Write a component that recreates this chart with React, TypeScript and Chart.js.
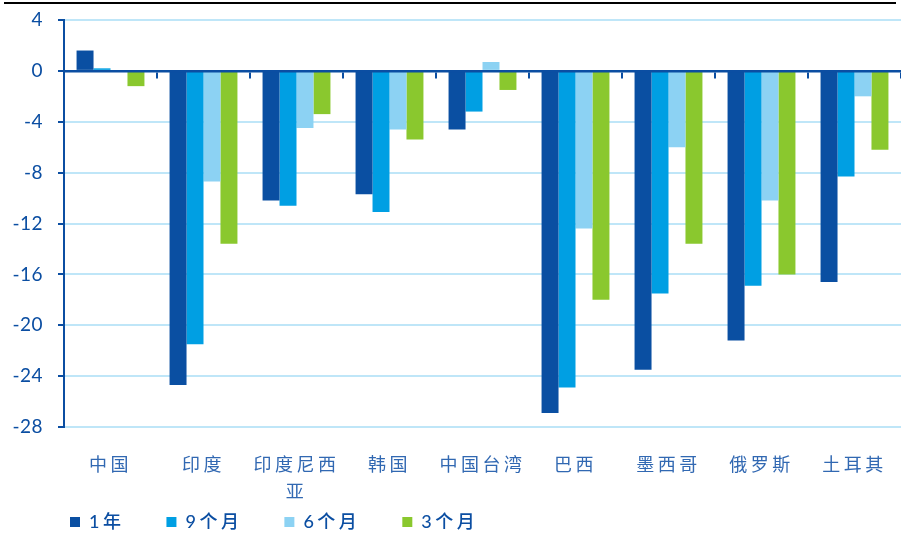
import React, { useEffect, useRef } from 'react';
import { Chart, registerables } from 'chart.js';

Chart.register(...registerables);

// ---- data ----
const categories = ['中国', '印度', '印度尼西亚', '韩国', '中国台湾', '巴西', '墨西哥', '俄罗斯', '土耳其'];
const seriesNames = ['1年', '9个月', '6个月', '3个月'];
const oneYear = [1.6, -24.7, -10.2, -9.7, -4.6, -26.9, -23.5, -21.2, -16.6];
const nineMonths = [0.2, -21.5, -10.6, -11.1, -3.2, -24.9, -17.5, -16.9, -8.3];
const sixMonths = [0, -8.7, -4.5, -4.6, 0.7, -12.4, -6.0, -10.2, -2.0];
const threeMonths = [-1.2, -13.6, -3.4, -5.4, -1.5, -18.0, -13.6, -16.0, -6.2];
const yMin = -28;
const yMax = 4;
const yStep = 4;

// ---- styles ----
const seriesColors = ['#0a4fa2', '#009fe3', '#8cd2f3', '#8ac82e'];
const darkBlue = '#0b4ea2';
const labelBlue = '#3168b2';
const gridBlue = '#bfe6f8';
const fontFamily = "Lato, 'Noto Sans CJK SC', sans-serif";

const spacingPlugin = {
  id: 'spacingAndRule',
  beforeUpdate(chart: any) {
    chart.ctx.letterSpacing = '3.5px';
  },
  beforeDraw(chart: any) {
    chart.ctx.letterSpacing = '3.5px';
  },
  afterDraw(chart: any) {
    const ctx = chart.ctx;
    ctx.save();
    ctx.strokeStyle = '#000';
    ctx.lineWidth = 2;
    ctx.beginPath();
    ctx.moveTo(4, 3);
    ctx.lineTo(896, 3);
    ctx.stroke();
    ctx.restore();
  },
};

export default function App() {
  const ref = useRef<HTMLCanvasElement | null>(null);

  useEffect(() => {
    if (!ref.current) return;
    const seriesValues = [oneYear, nineMonths, sixMonths, threeMonths];
    const chart = new Chart(ref.current, {
      type: 'bar',
      data: {
        labels: categories,
        datasets: seriesNames.map((name, i) => ({
          label: name,
          data: seriesValues[i],
          backgroundColor: seriesColors[i],
          borderWidth: 0,
          categoryPercentage: 0.73,
          barPercentage: 1,
        })),
      },
      plugins: [spacingPlugin],
      options: {
        responsive: false,
        devicePixelRatio: 1,
        animation: false,
        layout: { padding: { left: 28, top: 20, right: 0, bottom: -7 } },
        plugins: {
          tooltip: { enabled: false },
          legend: {
            position: 'bottom',
            align: 'start',
            labels: {
              boxWidth: 10,
              boxHeight: 10,
              padding: 42,
              color: darkBlue,
              font: { family: fontFamily, size: 18, weight: '500' as any },
            },
          },
        },
        scales: {
          x: {
            type: 'category',
            position: 'bottom',
            grid: { display: false, drawTicks: false },
            border: { display: false },
            ticks: {
              autoSkip: false,
              maxRotation: 0,
              minRotation: 0,
              padding: 25,
              color: labelBlue,
              font: { family: fontFamily, size: 18, lineHeight: 1.5 },
              callback: (_v: any, i: number) => {
                const s = categories[i];
                return s.length > 4 ? [s.slice(0, 4), s.slice(4)] : s;
              },
            },
            afterFit: (s: any) => {
              s.height = 44;
              s.paddingLeft = 0;
              s.paddingRight = 0;
            },
          },
          x2: {
            type: 'category',
            position: { y: 0 } as any,
            offset: true,
            grid: {
              display: true,
              offset: true,
              drawOnChartArea: false,
              drawTicks: true,
              tickLength: 6,
              color: darkBlue,
              lineWidth: 2,
              z: 1,
            },
            border: { display: true, color: darkBlue, width: 2.5, z: 1 },
            ticks: { display: false },
          },
          y: {
            min: yMin,
            max: yMax,
            ticks: {
              stepSize: yStep,
              padding: 15,
              color: darkBlue,
              font: { family: fontFamily, size: 19 },
            },
            grid: {
              color: gridBlue,
              lineWidth: 2,
              drawTicks: true,
              tickLength: 6,
              tickColor: darkBlue,
              tickWidth: 2,
            },
            border: { display: true, color: darkBlue, width: 2 },
            afterFit: (s: any) => {
              s.width = 36;
              s.paddingTop = 12;
              s.paddingBottom = 12;
            },
          },
        },
      } as any,
    });

    // let tick labels run outside their (deliberately narrow) scale boxes
    const xs: any = chart.scales.x;
    xs._computeLabelArea = () => undefined;
    const ys: any = chart.scales.y;
    ys._computeLabelArea = () => undefined;
    const origDraw = ys.drawLabels.bind(ys);
    ys.drawLabels = (area: any) => {
      const c = ys.ctx;
      c.save();
      c.letterSpacing = '0.5px';
      origDraw(area);
      c.restore();
    };
    chart.draw();

    return () => chart.destroy();
  }, []);

  return (
    <div style={{ position: 'fixed', left: 0, top: 0, width: 901, height: 534, background: '#fff' }}>
      <canvas ref={ref} width={901} height={534} style={{ display: 'block', width: 901, height: 534 }} />
    </div>
  );
}
